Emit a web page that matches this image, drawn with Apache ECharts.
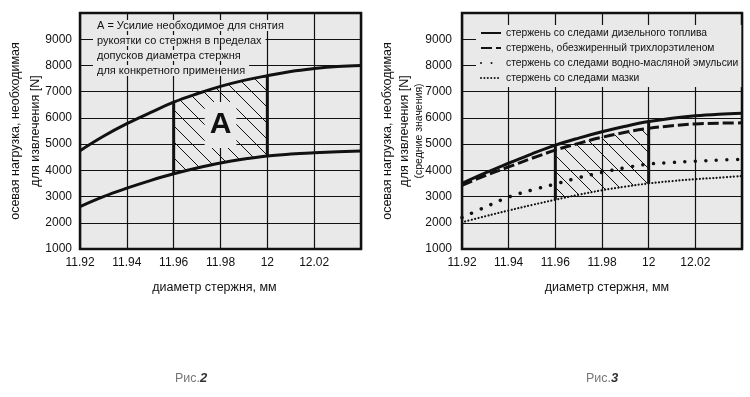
<!DOCTYPE html>
<html>
<head>
<meta charset="utf-8">
<title>Усилие извлечения стержня</title>
<script src="https://cdn.jsdelivr.net/npm/echarts@6/dist/echarts.min.js"></script>
<style>
  html, body { margin: 0; padding: 0; background: #fff; }
  #chart { width: 750px; height: 397px; }
</style>
</head>
<body>
<div id="chart"></div>
<script>
// диаметр стержня, мм
const diameters = [11.92, 11.93, 11.94, 11.95, 11.96, 11.97, 11.98, 11.99, 12.00, 12.01, 12.02, 12.03, 12.04]

// Рис.2 - границы усилия, N
const upperLoad = [4750, 5300, 5780, 6200, 6600, 6920, 7200, 7430, 7610, 7770, 7880, 7960, 8000]
const lowerLoad = [2620, 3000, 3320, 3610, 3870, 4090, 4280, 4430, 4550, 4620, 4670, 4710, 4740]

// Рис.3 - средние значения, N
const dieselLoad = [3500, 3900, 4270, 4630, 4960, 5230, 5470, 5680, 5860, 5990, 6080, 6140, 6180]
const trichloroLoad = [3430, 3800, 4130, 4460, 4770, 5030, 5260, 5450, 5600, 5700, 5770, 5800, 5810]
const emulsionLoad = [2200, 2600, 2980, 3250, 3480, 3720, 3920, 4100, 4240, 4300, 4350, 4390, 4420]
const greaseLoad = [2020, 2250, 2470, 2680, 2880, 3070, 3240, 3380, 3500, 3590, 3660, 3720, 3780]

const seriesNames = [
  'стержень со следами дизельного топлива',
  'стержень, обезжиренный трихлорэтиленом',
  'стержень со следами водно-масляной эмульсии',
  'стержень со следами мазки'
]

// допуск диаметра (заштрихованная область)
const toleranceFrom = 11.96
const toleranceTo = 12
const areaLabel = 'A'
const areaLabelLoad = 5730

const xTickLabels = ['11.92', '11.94', '11.96', '11.98', '12', '12.02', '']
const yTickLabels = ['1000', '2000', '3000', '4000', '5000', '6000', '7000', '8000', '9000', '']

const noteLines = [
  'A = Усилие необходимое для снятия',
  'рукоятки со стержня в пределах',
  'допусков диаметра стержня',
  'для конкретного применения'
]

const FONT = '"Liberation Sans", Arial, sans-serif'
const PLOT_BG = '#e9e9e9'
const INK = '#111'
const NONE = 'rgba(0,0,0,0)'

const xMin = 11.92, xMax = 12.04, xStep = 0.02
const yMin = 1000, yMax = 10000, yStep = 1000

// штриховка
function makeHatch() {
  const size = 16
  const c = document.createElement('canvas')
  c.width = size
  c.height = size
  const ctx = c.getContext('2d')
  ctx.strokeStyle = INK
  ctx.lineWidth = 1
  for (const off of [-size, 0, size]) {
    ctx.beginPath()
    ctx.moveTo(off - 1, -1)
    ctx.lineTo(off + size + 1, size + 1)
    ctx.stroke()
  }
  return c
}
const hatchImage = makeHatch()

const pairs = (vals) => diameters.map((d, i) => [d, vals[i]])

function makeXAxis(gridIndex, namePadding) {
  return {
    type: 'value',
    gridIndex,
    min: xMin,
    max: xMax,
    interval: xStep,
    name: 'диаметр стержня, мм',
    nameLocation: 'middle',
    nameGap: 32,
    nameTextStyle: { fontFamily: FONT, fontSize: 12.5, color: INK, padding: namePadding },
    axisLine: { show: false },
    axisTick: { show: false },
    axisLabel: {
      margin: 8,
      fontFamily: FONT,
      fontSize: 12,
      color: INK,
      formatter: (v) => xTickLabels[Math.round((v - xMin) / xStep)] || ''
    },
    splitLine: { show: true, lineStyle: { color: INK, width: 1.2 } }
  }
}

function makeYAxis(gridIndex, name, nameGap, rich, labelMargin) {
  return {
    type: 'value',
    gridIndex,
    min: yMin,
    max: yMax,
    interval: yStep,
    name,
    nameLocation: 'middle',
    nameGap,
    nameMoveOverlap: false,
    nameTextStyle: { fontFamily: FONT, fontSize: 12, color: INK, rich },
    axisLine: { show: false },
    axisTick: { show: false },
    axisLabel: {
      margin: labelMargin,
      fontFamily: FONT,
      fontSize: 12,
      color: INK,
      formatter: (v) => yTickLabels[Math.round((v - yMin) / yStep)] || ''
    },
    splitLine: { show: true, lineStyle: { color: INK, width: 1.2 } }
  }
}

// заштрихованная область между двумя кривыми + вертикальные границы
function toleranceArea(gridIndex, topVals, bottomVals, edgeTopVals, label) {
  const idx = diameters
    .map((d, i) => i)
    .filter((i) => diameters[i] >= toleranceFrom - 1e-9 && diameters[i] <= toleranceTo + 1e-9)
  return {
    type: 'custom',
    xAxisIndex: gridIndex,
    yAxisIndex: gridIndex,
    silent: true,
    z: 3,
    data: [[toleranceFrom, 0]],
    renderItem: (params, api) => {
      const top = idx.map((i) => api.coord([diameters[i], topVals[i]]))
      const bottom = idx.map((i) => api.coord([diameters[i], bottomVals[i]])).reverse()
      const first = idx[0], last = idx[idx.length - 1]
      const children = [
        {
          type: 'polygon',
          shape: { points: top.concat(bottom) },
          style: { fill: { image: hatchImage, repeat: 'repeat' }, stroke: null }
        }
      ]
      for (const i of [first, last]) {
        const p1 = api.coord([diameters[i], bottomVals[i]])
        const p2 = api.coord([diameters[i], edgeTopVals[i]])
        children.push({
          type: 'line',
          z2: 20,
          shape: { x1: p1[0], y1: p1[1], x2: p2[0], y2: p2[1] },
          style: { stroke: INK, lineWidth: 3 }
        })
      }
      if (label) {
        const c = api.coord([(toleranceFrom + toleranceTo) / 2, areaLabelLoad])
        children.push({
          type: 'text',
          z2: 10,
          x: c[0],
          y: c[1],
          style: {
            text: label,
            fontFamily: FONT,
            fontWeight: 'bold',
            fontSize: 30,
            fill: INK,
            align: 'center',
            verticalAlign: 'middle',
            backgroundColor: PLOT_BG,
            padding: [9, 5, 7, 5]
          }
        })
      }
      return { type: 'group', children }
    }
  }
}

function curve(gridIndex, name, vals, lineStyle) {
  return {
    name,
    type: 'line',
    xAxisIndex: gridIndex,
    yAxisIndex: gridIndex,
    data: pairs(vals),
    smooth: 0.4,
    symbol: 'none',
    silent: true,
    z: 5,
    lineStyle: Object.assign({ color: INK, width: 3 }, lineStyle),
    // no marker in the legend icon, only the line
    itemStyle: { color: NONE }
  }
}

const chart = echarts.init(document.getElementById('chart'), null, { renderer: 'canvas' })

const option = {
  animation: false,
  backgroundColor: '#fff',
  grid: [
    { left: 80, top: 13, width: 281, height: 236, show: true, backgroundColor: PLOT_BG, borderColor: INK, borderWidth: 2.5, outerBoundsMode: 'none' },
    { left: 462, top: 13, width: 280, height: 236, show: true, backgroundColor: PLOT_BG, borderColor: INK, borderWidth: 2.5, outerBoundsMode: 'none' }
  ],
  xAxis: [makeXAxis(0, [0, 12, 0, 0]), makeXAxis(1, [0, 0, 0, 10])],
  yAxis: [
    makeYAxis(0, '{n|осевая нагрузка, необходимая}\n{n|для извлечения [N]}', 34, {
      n: { fontFamily: FONT, fontSize: 12.5, color: INK, lineHeight: 20 }
    }, 8),
    makeYAxis(1, '{n|осевая нагрузка, необходимая}\n{n|для извлечения [N]}\n{s|(средние значения)}', 37, {
      n: { fontFamily: FONT, fontSize: 12.5, color: INK, lineHeight: 17 },
      s: { fontFamily: FONT, fontSize: 10.5, color: INK, lineHeight: 12 }
    }, 10)
  ],
  legend: {
    data: seriesNames,
    orient: 'vertical',
    left: 476,
    top: 25,
    itemWidth: 20,
    itemHeight: 8,
    itemGap: 5,
    padding: [3, 3, 4, 4],
    backgroundColor: PLOT_BG,
    selectedMode: false,
    itemStyle: { color: NONE, borderWidth: 0 },
    textStyle: { fontFamily: FONT, fontSize: 10.3, color: INK }
  },
  graphic: [
    {
      type: 'text',
      left: 93,
      top: 20,
      z: 10,
      style: {
        text: noteLines.map((l) => '{t|' + l + '}').join('\n'),
        rich: {
          t: { fontFamily: FONT, fontSize: 11, fill: INK, lineHeight: 15, backgroundColor: PLOT_BG, padding: [0, 4, 0, 4] }
        }
      }
    },
    {
      type: 'text',
      left: 175,
      top: 372,
      style: {
        text: '{a|Рис.}{b|2}',
        rich: {
          a: { fontFamily: FONT, fontSize: 12.5, fill: '#777' },
          b: { fontFamily: FONT, fontSize: 13, fontWeight: 'bold', fontStyle: 'italic', fill: '#333' }
        }
      }
    },
    {
      type: 'text',
      left: 586,
      top: 372,
      style: {
        text: '{a|Рис.}{b|3}',
        rich: {
          a: { fontFamily: FONT, fontSize: 12.5, fill: '#777' },
          b: { fontFamily: FONT, fontSize: 13, fontWeight: 'bold', fontStyle: 'italic', fill: '#333' }
        }
      }
    }
  ],
  series: [
    // Рис.2
    toleranceArea(0, upperLoad, lowerLoad, upperLoad, areaLabel),
    curve(0, 'верхняя граница', upperLoad, {}),
    curve(0, 'нижняя граница', lowerLoad, {}),
    // Рис.3
    toleranceArea(1, trichloroLoad, greaseLoad, dieselLoad, null),
    curve(1, seriesNames[0], dieselLoad, { type: 'solid' }),
    curve(1, seriesNames[1], trichloroLoad, { type: [11, 4] }),
    curve(1, seriesNames[2], emulsionLoad, { type: [0.01, 10.5], width: 3.5, cap: 'round' }),
    curve(1, seriesNames[3], greaseLoad, { type: [0.01, 3.4], width: 2.2, cap: 'round' })
  ]
}

chart.setOption(option)
</script>
</body>
</html>
